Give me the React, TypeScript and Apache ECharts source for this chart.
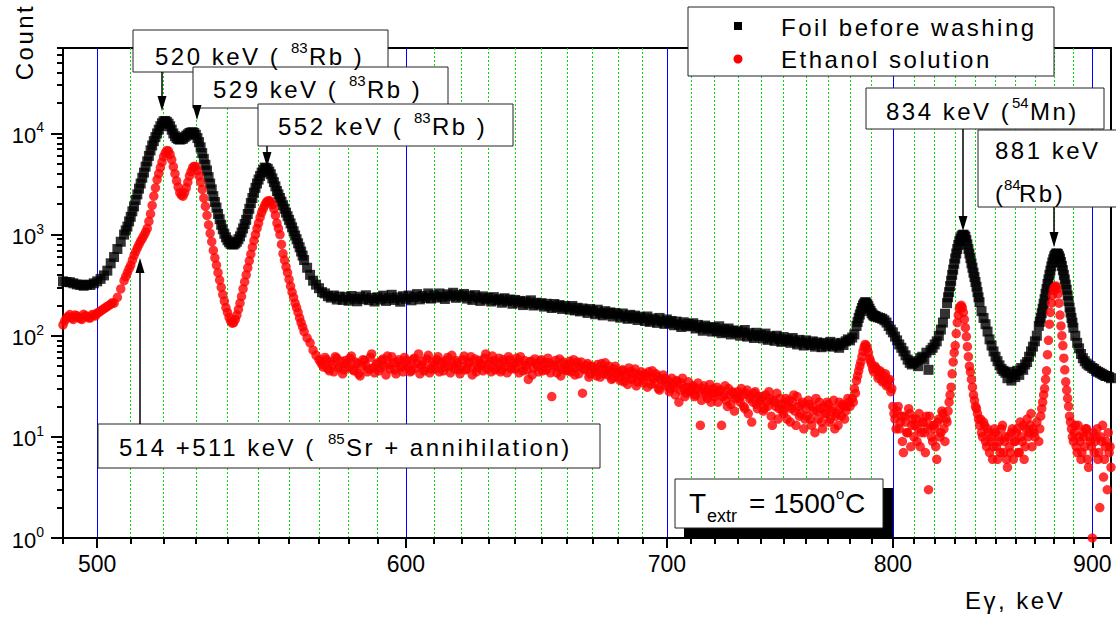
import React, { useEffect, useRef } from "react";
import * as echarts from "echarts";

// Energy grid (keV), one value per channel
const energyKeV = [
  490, 491, 492, 493, 494, 495, 496, 497, 498, 499,
  500, 501, 502, 503, 504, 505, 506, 507, 508, 509,
  510, 511, 512, 513, 514, 515, 516, 517, 518, 519,
  520, 521, 522, 523, 524, 525, 526, 527, 528, 529,
  530, 531, 532, 533, 534, 535, 536, 537, 538, 539,
  540, 541, 542, 543, 544, 545, 546, 547, 548, 549,
  550, 551, 552, 553, 554, 555, 556, 557, 558, 559,
  560, 561, 562, 563, 564, 565, 566, 567, 568, 569,
  570, 571, 572, 573, 574, 575, 576, 577, 578, 579,
  580, 581, 582, 583, 584, 585, 586, 587, 588, 589,
  590, 591, 592, 593, 594, 595, 596, 597, 598, 599,
  600, 601, 602, 603, 604, 605, 606, 607, 608, 609,
  610, 611, 612, 613, 614, 615, 616, 617, 618, 619,
  620, 621, 622, 623, 624, 625, 626, 627, 628, 629,
  630, 631, 632, 633, 634, 635, 636, 637, 638, 639,
  640, 641, 642, 643, 644, 645, 646, 647, 648, 649,
  650, 651, 652, 653, 654, 655, 656, 657, 658, 659,
  660, 661, 662, 663, 664, 665, 666, 667, 668, 669,
  670, 671, 672, 673, 674, 675, 676, 677, 678, 679,
  680, 681, 682, 683, 684, 685, 686, 687, 688, 689,
  690, 691, 692, 693, 694, 695, 696, 697, 698, 699,
  700, 701, 702, 703, 704, 705, 706, 707, 708, 709,
  710, 711, 712, 713, 714, 715, 716, 717, 718, 719,
  720, 721, 722, 723, 724, 725, 726, 727, 728, 729,
  730, 731, 732, 733, 734, 735, 736, 737, 738, 739,
  740, 741, 742, 743, 744, 745, 746, 747, 748, 749,
  750, 751, 752, 753, 754, 755, 756, 757, 758, 759,
  760, 761, 762, 763, 764, 765, 766, 767, 768, 769,
  770, 771, 772, 773, 774, 775, 776, 777, 778, 779,
  780, 781, 782, 783, 784, 785, 786, 787, 788, 789,
  790, 791, 792, 793, 794, 795, 796, 797, 798, 799,
  800, 801, 802, 803, 804, 805, 806, 807, 808, 809,
  810, 811, 812, 813, 814, 815, 816, 817, 818, 819,
  820, 821, 822, 823, 824, 825, 826, 827, 828, 829,
  830, 831, 832, 833, 834, 835, 836, 837, 838, 839,
  840, 841, 842, 843, 844, 845, 846, 847, 848, 849,
  850, 851, 852, 853, 854, 855, 856, 857, 858, 859,
  860, 861, 862, 863, 864, 865, 866, 867, 868, 869,
  870, 871, 872, 873, 874, 875, 876, 877, 878, 879,
  880, 881, 882, 883, 884, 885, 886, 887, 888, 889,
  890, 891, 892, 893, 894, 895, 896, 897, 898, 899,
  900, 901, 902, 903, 904, 905, 906, 907, 908, 909, 910,
];

// "Foil before washing" counts
const foilCounts = [
  345, 340, 338, 330, 322, 318, 312, 320, 318, 330,
  345, 365, 395, 440, 520, 600, 720, 850, 1000, 1200,
  1500, 1900, 2500, 3200, 4100, 5300, 6800, 8400, 10000, 11800,
  13200, 13000, 11800, 10000, 9000, 8700, 8900, 9500, 10100, 10300,
  9700, 8200, 6400, 4900, 3700, 2800, 2100, 1600, 1250, 1020,
  880, 810, 800, 850, 960, 1150, 1400, 1800, 2300, 2900,
  3500, 4100, 4600, 4450, 3950, 3300, 2700, 2300, 1950, 1650,
  1400, 1180, 980, 820, 680, 560, 470, 400, 350, 320,
  295, 270, 262, 246, 238, 250, 228, 244, 226, 241,
  222, 247, 232, 219, 243, 230, 251, 225, 236, 218,
  240, 228, 249, 221, 235, 254, 226, 239, 217, 246,
  232, 250, 224, 241, 258, 229, 247, 236, 262, 233,
  251, 238, 262, 243, 231, 257, 246, 266, 237, 253,
  244, 259, 233, 248, 226, 252, 238, 221, 245, 229,
  236, 218, 241, 224, 230, 212, 235, 219, 228, 207,
  226, 213, 221, 201, 218, 208, 224, 199, 212, 203,
  210, 194, 207, 198, 188, 206, 192, 201, 184, 197,
  190, 181, 197, 178, 189, 174, 186, 179, 168, 184,
  176, 163, 181, 168, 159, 175, 164, 170, 155, 168,
  162, 151, 166, 156, 147, 161, 150, 158, 143, 154,
  149, 140, 155, 137, 148, 143, 134, 150, 139, 131,
  145, 133, 140, 127, 138, 129, 122, 136, 126, 131,
  124, 133, 118, 128, 121, 112, 126, 117, 122, 110,
  120, 111, 124, 106, 116, 109, 118, 103, 113, 107,
  111, 100, 108, 114, 98, 106, 101, 95, 107, 99,
  102, 94, 105, 91, 99, 96, 89, 100, 93, 87,
  97, 89, 92, 85, 95, 88, 82, 91, 86, 80,
  90, 84, 81, 88, 78, 86, 83, 77, 85, 79,
  82, 87, 78, 84, 80, 76, 85, 81, 88, 92,
  90, 96, 103, 125, 150, 175, 200, 215, 205, 185,
  168, 158, 155, 152, 150, 147, 142, 135, 125, 115,
  108, 98, 90, 82, 76, 70, 64, 58, 54, 52,
  54, 56, 50, 60, 62, 58, 68, 46, 72, 76,
  82, 88, 100, 115, 135, 165, 210, 270, 350, 450,
  580, 720, 860, 960, 1000, 950, 800, 650, 520, 420,
  340, 270, 215, 175, 150, 130, 110, 92, 80, 70,
  62, 56, 51, 47, 45, 43, 38, 44, 36, 42,
  39, 45, 41, 48, 46, 52, 55, 62, 70, 78,
  88, 100, 125, 150, 185, 230, 290, 360, 440, 530,
  610, 650, 640, 580, 490, 400, 320, 250, 190, 150,
  120, 100, 85, 75, 66, 60, 56, 53, 51, 50,
  48, 47, 45, 44, 43, 42, 41, 40, 40, 39, 38,
];

// "Ethanol solution" counts
const ethanolCounts = [
  128, 150, 162, 145, 158, 148, 163, 155, 150, 160,
  168, 176, 185, 195, 205, 210, 240, 290, 350, 420,
  500, 620, 740, 860, 980, 1150, 1600, 2400, 3500, 4600,
  5900, 6800, 6200, 4700, 3400, 2600, 2400, 2900, 3800, 4600,
  4700, 3800, 2800, 1900, 1250, 850, 590, 420, 300, 220,
  170, 140, 135, 160, 210, 290, 400, 550, 750, 1000,
  1300, 1650, 1950, 2150, 2100, 1800, 1300, 1000, 650, 480,
  360, 270, 210, 170, 135, 110, 95, 85, 72, 64,
  58, 52, 61, 47, 55, 44, 60, 50, 42, 57,
  49, 63, 45, 53, 40, 58, 51, 47, 66, 43,
  54, 48, 59, 41, 52, 62, 46, 55, 50, 44,
  57, 49, 45, 60, 53, 42, 56, 48, 64, 47,
  51, 58, 44, 55, 49, 61, 43, 52, 57, 46,
  50, 63, 47, 54, 41, 59, 48, 53, 45, 66,
  52, 44, 57, 49, 60, 46, 54, 43, 58, 50,
  47, 55, 62, 45, 51, 37, 56, 48, 53, 44,
  58, 49, 46, 54, 25, 51, 43, 59, 47, 52,
  45, 56, 48, 41, 55, 50, 27, 46, 53, 42,
  49, 44, 52, 39, 47, 54, 41, 45, 38, 50,
  43, 36, 46, 40, 33, 44, 38, 47, 35, 41,
  37, 42, 31, 39, 45, 34, 40, 29, 36, 38,
  33, 28, 38, 31, 36, 22, 34, 30, 27, 35,
  29, 32, 26, 34, 13, 30, 28, 24, 33, 27,
  25, 31, 28, 13, 26, 23, 30, 21, 27, 24,
  28, 22, 26, 19, 29, 24, 14, 27, 21, 25,
  23, 18, 26, 20, 24, 13, 22, 27, 19, 21,
  17, 24, 20, 14, 22, 18, 25, 16, 21, 12,
  19, 23, 15, 20, 11, 18, 22, 14, 20, 17,
  21, 15, 19, 12, 17, 22, 16, 20, 18, 24,
  20, 24, 30, 36, 45, 55, 70, 82, 75, 60,
  52, 44, 48, 38, 45, 35, 40, 32, 36, 28,
  20, 15, 18, 12, 16, 7, 14, 11, 17, 13,
  10, 15, 12, 8, 14, 11, 16, 3, 13, 9,
  12, 6, 15, 11, 17, 9, 14, 22, 31, 55,
  80, 135, 185, 200, 170, 120, 78, 50, 37, 26,
  20, 17, 13, 11, 14, 9, 12, 7, 10, 8,
  11, 6, 9, 12, 7, 10, 5, 8, 11, 6,
  9, 12, 7, 10, 13, 8, 15, 11, 17, 12,
  10, 14, 9, 16, 22, 30, 45, 90, 170, 250,
  300, 310, 260, 160, 100, 60, 35, 24, 16, 12,
  9, 13, 7, 10, 6, 11, 8, 12, 5, 9,
  1, 7, 10, 6, 2, 9, 4, 8, 3, 7, 5,
];

// Extra half-keV channels in the peak regions (both spectra)
const halfEnergyKeV = [
  508.5, 509.5,
  510.5, 511.5, 512.5, 513.5, 514.5, 515.5, 516.5, 517.5, 518.5, 519.5,
  520.5, 521.5, 522.5, 523.5, 524.5, 525.5, 526.5, 527.5, 528.5, 529.5,
  530.5, 531.5, 532.5, 533.5, 534.5, 535.5, 536.5, 537.5, 538.5, 539.5,
  540.5, 541.5, 542.5, 543.5, 544.5, 545.5, 546.5, 547.5, 548.5, 549.5,
  550.5, 551.5, 552.5, 553.5, 554.5, 555.5, 556.5, 557.5, 558.5, 559.5,
  560.5, 561.5, 562.5, 563.5, 564.5,
  783.5, 784.5, 785.5, 786.5, 787.5, 788.5, 789.5, 790.5, 791.5,
  826.5, 827.5, 828.5, 829.5, 830.5, 831.5, 832.5, 833.5, 834.5, 835.5,
  836.5, 837.5, 838.5, 839.5, 840.5, 841.5,
  872.5, 873.5, 874.5, 875.5, 876.5, 877.5, 878.5, 879.5, 880.5, 881.5,
  882.5, 883.5, 884.5, 885.5, 886.5, 887.5, 888.5, 889.5,
];

const foilHalfCounts = [
  1100, 1350,
  1700, 2200, 2850, 3650, 4700, 6000, 7600, 9200, 10900, 12600,
  13300, 12500, 10900, 9400, 8800, 8800, 9200, 9800, 10200, 10100,
  9000, 7300, 5600, 4300, 3200, 2400, 1850, 1420, 1130, 940,
  840, 800, 820, 900, 1050, 1270, 1600, 2050, 2600, 3200,
  3800, 4350, 4550, 4200, 3600, 3000, 2500, 2120, 1800, 1520,
  1290, 1080, 900, 750, 620,
  137, 162, 188, 208, 212, 196, 176, 162, 156,
  240, 310, 400, 515, 650, 790, 910, 985, 980, 880,
  720, 585, 470, 380, 305, 240,
  137, 167, 207, 260, 325, 400, 485, 570, 630, 648,
  612, 535, 445, 360, 285, 220, 170, 135,
];

const ethanolHalfCounts = [
  385, 460,
  560, 680, 800, 920, 1060, 1350, 1950, 2900, 4000, 5200,
  6400, 6700, 5500, 4000, 2950, 2450, 2600, 3300, 4200, 4750,
  4300, 3300, 2300, 1550, 1030, 700, 500, 355, 255, 190,
  152, 133, 145, 182, 245, 340, 470, 640, 870, 1150,
  1480, 1800, 2080, 2170, 1980, 1550, 1150, 800, 560, 420,
  310, 240, 190, 150, 122,
  40, 50, 62, 77, 80, 68, 56, 47, 50,
  18, 26, 42, 68, 105, 160, 195, 190, 145, 98,
  62, 44, 31, 23, 19, 15,
  12, 19, 26, 37, 65, 130, 210, 280, 305, 290,
  210, 125, 80, 46, 29, 20, 14, 10,
];

// Extra half-keV channels of the noisy ethanol background
const ethanolExtraKeV = [
  490.5, 491.5, 492.5, 493.5, 494.5, 495.5, 496.5, 497.5, 498.5, 499.5,
  500.5, 501.5, 502.5, 503.5, 504.5,
  570.5, 571.5, 572.5, 573.5, 574.5, 575.5, 576.5, 577.5, 578.5, 579.5,
  580.5, 581.5, 582.5, 583.5, 584.5, 585.5, 586.5, 587.5, 588.5, 589.5,
  590.5, 591.5, 592.5, 593.5, 594.5, 595.5, 596.5, 597.5, 598.5, 599.5,
  600.5, 601.5, 602.5, 603.5, 604.5, 605.5, 606.5, 607.5, 608.5, 609.5,
  610.5, 611.5, 612.5, 613.5, 614.5, 615.5, 616.5, 617.5, 618.5, 619.5,
  620.5, 621.5, 622.5, 623.5, 624.5, 625.5, 626.5, 627.5, 628.5, 629.5,
  630.5, 631.5, 632.5, 633.5, 634.5, 635.5, 636.5, 637.5, 638.5, 639.5,
  640.5, 641.5, 642.5, 643.5, 644.5, 645.5, 646.5, 647.5, 648.5, 649.5,
  650.5, 651.5, 652.5, 653.5, 654.5, 655.5, 656.5, 657.5, 658.5, 659.5,
  660.5, 661.5, 662.5, 663.5, 664.5, 665.5, 666.5, 667.5, 668.5, 669.5,
  670.5, 671.5, 672.5, 673.5, 674.5, 675.5, 676.5, 677.5, 678.5, 679.5,
  680.5, 681.5, 682.5, 683.5, 684.5, 685.5, 686.5, 687.5, 688.5, 689.5,
  690.5, 691.5, 692.5, 693.5, 694.5, 695.5, 696.5, 697.5, 698.5, 699.5,
  700.5, 701.5, 702.5, 703.5, 704.5, 705.5, 706.5, 707.5, 708.5, 709.5,
  710.5, 711.5, 712.5, 713.5, 714.5, 715.5, 716.5, 717.5, 718.5, 719.5,
  720.5, 721.5, 722.5, 723.5, 724.5, 725.5, 726.5, 727.5, 728.5, 729.5,
  730.5, 731.5, 732.5, 733.5, 734.5, 735.5, 736.5, 737.5, 738.5, 739.5,
  740.5, 741.5, 742.5, 743.5, 744.5, 745.5, 746.5, 747.5, 748.5, 749.5,
  750.5, 751.5, 752.5, 753.5, 754.5, 755.5, 756.5, 757.5, 758.5, 759.5,
  760.5, 761.5, 762.5, 763.5, 764.5, 765.5, 766.5, 767.5, 768.5, 769.5,
  770.5, 771.5, 772.5, 773.5, 774.5, 775.5, 776.5, 777.5, 778.5, 779.5,
  781.5, 782.5,
  792.5, 793.5, 794.5, 795.5, 796.5, 797.5, 798.5, 799.5,
  800.5, 801.5, 802.5, 803.5, 804.5, 805.5, 806.5, 807.5, 808.5, 809.5,
  810.5, 811.5, 812.5, 813.5, 814.5, 815.5, 816.5, 817.5, 818.5, 819.5,
  820.5, 821.5, 822.5, 823.5, 824.5, 825.5,
  842.5, 843.5, 844.5, 845.5, 846.5, 847.5, 848.5, 849.5,
  850.5, 851.5, 852.5, 853.5, 854.5, 855.5, 856.5, 857.5, 858.5, 859.5,
  860.5, 861.5, 862.5, 863.5, 864.5, 865.5, 866.5, 867.5, 868.5, 869.5,
  890.5, 891.5, 892.5, 893.5, 894.5, 895.5, 896.5, 897.5, 898.5, 899.5,
  900.5, 901.5, 902.5, 903.5, 904.5, 905.5, 906.5, 907.5, 908.5, 909.5,
];

const ethanolExtraCounts = [
  140, 155, 150, 160, 152, 145, 158, 150, 162, 157,
  170, 180, 190, 200, 212,
  55, 49, 58, 45, 52, 62, 48, 56, 46, 53,
  60, 46, 55, 42, 50, 57, 44, 61, 48, 52,
  45, 57, 50, 63, 47, 54, 42, 58, 49, 61,
  52, 44, 58, 48, 66, 51, 45, 59, 43, 55,
  47, 62, 53, 45, 57, 50, 64, 47, 54, 42,
  58, 46, 55, 62, 49, 44, 57, 51, 60, 47,
  55, 63, 46, 53, 44, 58, 50, 62, 47, 54,
  60, 43, 52, 57, 46, 55, 41, 59, 50, 56,
  45, 54, 60, 43, 51, 57, 48, 40, 55, 46,
  52, 44, 58, 49, 42, 55, 47, 51, 39, 50,
  46, 40, 48, 53, 42, 45, 50, 37, 47, 43,
  39, 45, 35, 42, 48, 37, 43, 32, 40, 44,
  34, 40, 44, 33, 38, 42, 30, 37, 41, 32,
  36, 30, 33, 26, 35, 29, 38, 25, 31, 28,
  31, 25, 30, 28, 23, 32, 26, 29, 22, 30,
  27, 22, 29, 25, 32, 20, 26, 28, 18, 25,
  24, 30, 20, 27, 17, 25, 22, 28, 19, 23,
  25, 19, 22, 28, 16, 23, 20, 15, 24, 18,
  21, 15, 23, 19, 26, 13, 20, 17, 22, 15,
  16, 21, 13, 18, 24, 15, 19, 12, 17, 22,
  14, 18, 23, 16, 13, 19, 21, 15, 20, 22,
  22, 27,
  46, 40, 43, 36, 42, 33, 37, 30,
  17, 12, 20, 14, 9, 16, 11, 19, 8, 15,
  13, 9, 17, 11, 14, 7, 12, 16, 10, 13,
  8, 14, 10, 18, 12, 15,
  15, 10, 13, 8, 11, 9, 6, 12,
  8, 10, 7, 13, 9, 6, 10, 7, 12, 9,
  11, 7, 14, 9, 6, 12, 10, 13, 8, 11,
  11, 8, 13, 9, 7, 10, 12, 6, 10, 8,
  11, 9, 12, 7, 10, 13, 6, 9, 11, 8,
];

// Axis tick values
const xMajorTicks = [500, 600, 700, 800, 900];
const xMinorTicks = [
  490, 510, 520, 530, 540, 550, 560, 570, 580, 590,
  610, 620, 630, 640, 650, 660, 670, 680, 690,
  710, 720, 730, 740, 750, 760, 770, 780, 790,
  810, 820, 830, 840, 850, 860, 870, 880, 890, 910,
];
const yMajorTicks = [1, 10, 100, 1000, 10000];
const yMinorTicks = [
  2, 3, 4, 5, 6, 7, 8, 9,
  20, 30, 40, 50, 60, 70, 80, 90,
  200, 300, 400, 500, 600, 700, 800, 900,
  2000, 3000, 4000, 5000, 6000, 7000, 8000, 9000,
  20000, 30000, 40000, 50000, 60000, 70000,
];

const seriesNames = ["Foil before washing", "Ethanol solution"];

const FONT = '"Liberation Sans", Arial, sans-serif';
const SPACED = '"Liberation Sans", Spaced, Arial, sans-serif';

function txt(text: string, x: number, y: number, size: number, spaced: boolean, extra: any = {}) {
  return {
    type: "text",
    x,
    y,
    z: 102,
    ...extra,
    style: {
      text,
      fontSize: size,
      fontFamily: spaced ? SPACED : FONT,
      fill: "#000",
      align: extra.align || "left",
      verticalAlign: "middle",
    },
  };
}

function box(x: number, y: number, w: number, h: number) {
  return {
    type: "rect",
    z: 101,
    shape: { x, y, width: w, height: h },
    style: { fill: "#fff", stroke: "#222", lineWidth: 1 },
  };
}

function arrow(x: number, yFrom: number, yTip: number) {
  const dir = yTip > yFrom ? 1 : -1;
  return [
    {
      type: "line",
      z: 101,
      shape: { x1: x, y1: yFrom, x2: x, y2: yTip - dir * 10 },
      style: { stroke: "#000", lineWidth: 1.5 },
    },
    {
      type: "polygon",
      z: 101,
      shape: { points: [[x - 4.5, yTip - dir * 15], [x + 4.5, yTip - dir * 15], [x, yTip]] },
      style: { fill: "#000" },
    },
  ];
}

export default function App() {
  const ref = useRef<HTMLDivElement>(null);

  useEffect(() => {
    if (!ref.current) return;
    const chart = echarts.init(ref.current, null, { renderer: "svg" });

    const foilData = energyKeV
      .map((e, i) => [e, foilCounts[i]])
      .concat(halfEnergyKeV.map((e, i) => [e, foilHalfCounts[i]]));
    const ethanolData = energyKeV
      .map((e, i) => [e, ethanolCounts[i]])
      .concat(halfEnergyKeV.map((e, i) => [e, ethanolHalfCounts[i]]))
      .concat(ethanolExtraKeV.map((e, i) => [e, ethanolExtraCounts[i]]));

    const graphics: any[] = [
      // legend
      box(688, 7, 366, 69),
      { type: "rect", z: 102, shape: { x: 734, y: 22, width: 8, height: 8 }, style: { fill: "#000" } },
      { type: "circle", z: 102, shape: { cx: 738, cy: 59, r: 4.5 }, style: { fill: "#ff0000" } },
      txt(seriesNames[0], 781, 27, 24, true),
      txt(seriesNames[1], 781, 59, 24, true),

      // 520
      box(133, 30, 255, 42),
      txt("520 keV ( ", 155, 56, 24, true),
      txt("83", 291, 47, 15, false),
      txt("Rb )", 309, 56, 24, true),
      ...arrow(162, 72, 111),

      // 529
      box(193, 67, 255, 41),
      txt("529 keV ( ", 213, 89, 24, true),
      txt("83", 349, 80, 15, false),
      txt("Rb )", 367, 89, 24, true),
      ...arrow(197, 108, 120),

      // 552
      box(258, 104, 255, 42),
      txt("552 keV ( ", 278, 126, 24, true),
      txt("83", 414, 117, 15, false),
      txt("Rb )", 432, 126, 24, true),
      ...arrow(267, 146, 167),

      // 834
      box(866, 88, 238, 41),
      txt("834 keV (", 886, 111, 24, true),
      txt("54", 1012, 102, 15, false),
      txt("Mn)", 1030, 111, 24, true),
      ...arrow(963, 129, 231),

      // 881
      box(978, 130, 150, 77),
      txt("881 keV", 995, 150, 24, true),
      txt("(", 995, 193, 24, true),
      txt("84", 1004, 184, 15, false),
      txt("Rb)", 1019, 193, 24, true),
      ...arrow(1054, 207, 247),

      // 514 + 511
      box(98, 424, 502, 44),
      txt("514 +511 keV ( ", 119, 447, 24, true),
      txt("85", 328, 438, 15, false),
      txt("Sr + annihilation)", 346, 447, 24, true),
      ...arrow(140, 424, 258),

      // T extr
      { type: "rect", z: 100, shape: { x: 684, y: 488, width: 209, height: 49 }, style: { fill: "#000" } },
      box(675, 479, 208, 49),
      txt("T", 689, 503, 28, false),
      txt("extr", 707, 516, 18, false),
      txt("= 1500", 749, 503, 28, false),
      txt("o", 836, 493, 15, false),
      txt("C", 845, 503, 28, false),

      // axis names
      txt("Count", 24, 42, 24, true, { rotation: Math.PI / 2, align: "center" }),
      txt("E\u03b3, keV", 965, 600, 24, true),
    ];

    const option: any = {
      animation: false,
      backgroundColor: "#fff",
      textStyle: { fontFamily: FONT },
      grid: {
        left: 63,
        right: 5,
        top: 48,
        bottom: 79,
        show: true,
        borderColor: "#000",
        borderWidth: 2,
        backgroundColor: "transparent",
      },
      xAxis: [
        {
          type: "log",
          logBase: 10,
          min: 490,
          max: 910,
          position: "bottom",
          axisLine: { show: true, onZero: false, lineStyle: { color: "#000", width: 2 } },
          axisTick: {
            show: true,
            customValues: xMajorTicks,
            length: 10,
            inside: false,
            lineStyle: { color: "#000", width: 2 },
          },
          axisLabel: {
            show: true,
            customValues: xMajorTicks,
            margin: 14,
            fontSize: 23,
            color: "#000",
            fontFamily: FONT,
            formatter: (v: number) => String(Math.round(v)),
          },
          splitLine: { show: true, lineStyle: { color: "#0000ff", width: 1, type: "solid", opacity: 1 } },
          minorTick: { show: false },
          minorSplitLine: { show: false },
        },
        {
          type: "log",
          logBase: 10,
          min: 490,
          max: 910,
          position: "bottom",
          axisLine: { show: false },
          axisTick: {
            show: true,
            customValues: xMinorTicks,
            length: 6,
            lineStyle: { color: "#000", width: 2 },
          },
          axisLabel: { show: false },
          splitLine: {
            show: true,
            showMinLine: false,
            showMaxLine: false,
            lineStyle: { color: "#00e000", width: 1, type: [2, 2] },
          },
        },
      ],
      yAxis: [
        {
          type: "log",
          logBase: 10,
          min: 1,
          max: 70000,
          position: "left",
          axisLine: { show: true, onZero: false, lineStyle: { color: "#000", width: 2 } },
          axisTick: {
            show: true,
            customValues: yMajorTicks,
            length: 12,
            lineStyle: { color: "#000", width: 2 },
          },
          axisLabel: {
            show: true,
            customValues: yMajorTicks,
            margin: 19,
            formatter: (v: number) => `{b|10}{s|${Math.round(Math.log10(v))}}`,
            rich: {
              b: { fontSize: 22, fontFamily: FONT, color: "#000", lineHeight: 26, verticalAlign: "bottom" },
              s: { fontSize: 14, fontFamily: FONT, color: "#000", lineHeight: 12, verticalAlign: "top" },
            },
          },
          splitLine: { show: false },
          minorTick: { show: false },
        },
        {
          type: "log",
          logBase: 10,
          min: 1,
          max: 70000,
          position: "left",
          axisLine: { show: false },
          axisTick: {
            show: true,
            customValues: yMinorTicks,
            length: 6,
            lineStyle: { color: "#000", width: 2 },
          },
          axisLabel: { show: false },
          splitLine: { show: false },
        },
      ],
      series: [
        {
          name: seriesNames[0],
          type: "scatter",
          xAxisIndex: 0,
          yAxisIndex: 0,
          symbol: "rect",
          symbolSize: 10,
          itemStyle: { color: "#000" },
          data: foilData,
          z: 3,
        },
        {
          name: seriesNames[1],
          type: "scatter",
          xAxisIndex: 0,
          yAxisIndex: 0,
          symbol: "circle",
          symbolSize: 9.5,
          itemStyle: { color: "#ff0000" },
          data: ethanolData,
          z: 4,
        },
      ],
      graphic: { elements: graphics },
    };

    chart.setOption(option);
    return () => chart.dispose();
  }, []);

  return (
    <>
      <style>{`text[style*="Spaced"]{letter-spacing:2.5px;}`}</style>
      <div
        ref={ref}
        style={{ position: "fixed", left: 0, top: 0, width: 1116, height: 617, background: "#fff" }}
      />
    </>
  );
}
